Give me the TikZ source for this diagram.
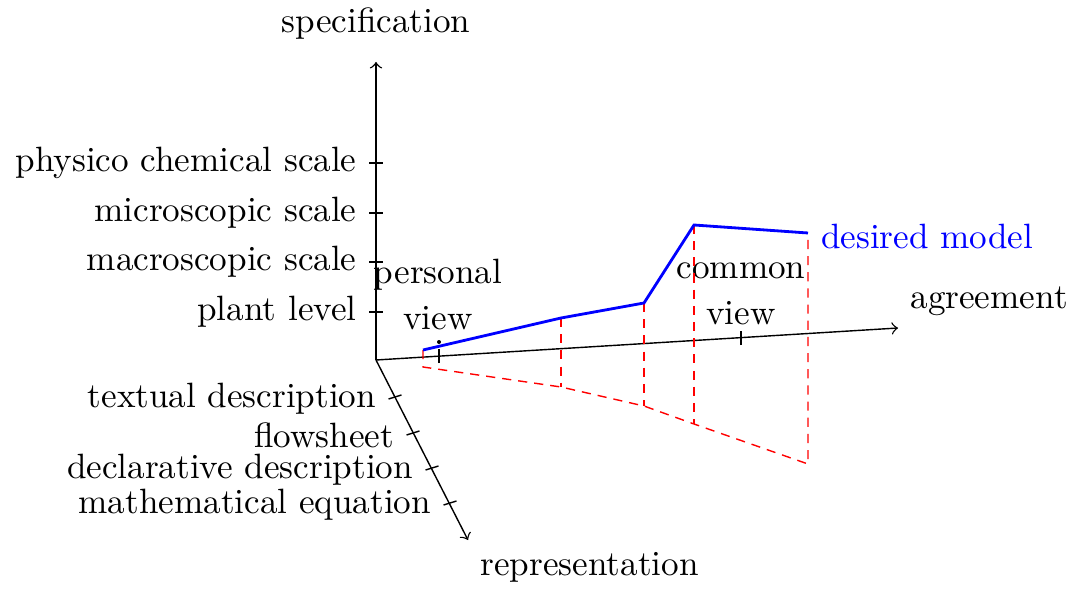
\documentclass[tikz,border=0pt]{standalone}
\usepackage{tikz}
\usetikzlibrary{positioning}
\newcommand{\spectick}[3]{% y, name, label   (tick on the vertical axis)
  \draw (-0.07,#1) -- (0.07,#1);
  \node[anchor=east] (#2) at (-0.07,#1) {#3};}
\newcommand{\reptick}[4]{% x, y, name, label   (tick on the slanted axis)
  \draw (#1-0.065,#2-0.02) -- (#1+0.065,#2+0.02);
  \node[anchor=east] (#3) at (#1-0.065,#2-0.02) {#4};}
\newcommand{\agrtick}[2]{% x, y   (tick on the agreement axis)
  \draw (#1,#2-0.07) -- (#1,#2+0.07);}

\begin{document}
\begin{tikzpicture}[>=to,
    model/.style={blue,thick},
    proj/.style={red,dashed,dash pattern=on 2.6pt off 2pt}]
  \useasboundingbox (-3.76,-2.29) rectangle (7.02,3.60);
  % axes
  \coordinate (o) at (0,0);
  \coordinate (spec) at (0,2.98);
  \coordinate (agr) at (5.22,0.32);
  \coordinate (rep) at (0.92,-1.80);
  \draw[->] (o) -- (spec) node[above=3pt] (spectxt) {specification};
  \draw[->] (o) -- (agr) node[above right] (agrtxt) {agreement};
  \draw[->] (o) -- (rep) node[below right] (reptxt) {representation};
  % specification levels
  \spectick{0.48}{plant}{plant level}
  \spectick{0.98}{macro}{macroscopic scale}
  \spectick{1.47}{micro}{microscopic scale}
  \spectick{1.97}{phys}{physico chemical scale}
  % representation levels
  \reptick{0.19}{-0.37}{text}{textual description}
  \reptick{0.37}{-0.73}{flow}{flowsheet}
  \reptick{0.56}{-1.08}{decl}{declarative description}
  \reptick{0.74}{-1.43}{math}{mathematical equation}
  % agreement levels
  \agrtick{0.63}{0.04}
  \agrtick{3.65}{0.22}
  \node[anchor=south,align=center] (personal) at (0.62,0.18) {personal\\[1pt]view};
  \node[anchor=south,align=center] (common) at (3.65,0.23) {common\\[1pt]view};
  \fill (0.63,0.18) circle (0.02);
  % model path and its projection
  \coordinate (b0) at (0.47,0.10);
  \coordinate (b1) at (1.85,0.42);
  \coordinate (b2) at (2.68,0.57);
  \coordinate (b3) at (3.18,1.35);
  \coordinate (b4) at (4.32,1.27);
  \coordinate (r0) at (0.47,-0.07);
  \coordinate (r1) at (1.85,-0.27);
  \coordinate (r2) at (2.68,-0.46);
  \coordinate (r3) at (3.18,-0.64);
  \coordinate (r4) at (4.32,-1.04);
  \draw[proj] (b0) -- (r0) -- (r1) -- (r2) -- (r3) -- (r4) -- (b4);
  \foreach \i in {1,2,3}
    \draw[proj] (b\i) -- (r\i);
  \draw[model] (b0) -- (b1) -- (b2) -- (b3) -- (b4)
    node[right,text=blue,yshift=-1pt] (desired) {desired model};
\end{tikzpicture}
\end{document}
